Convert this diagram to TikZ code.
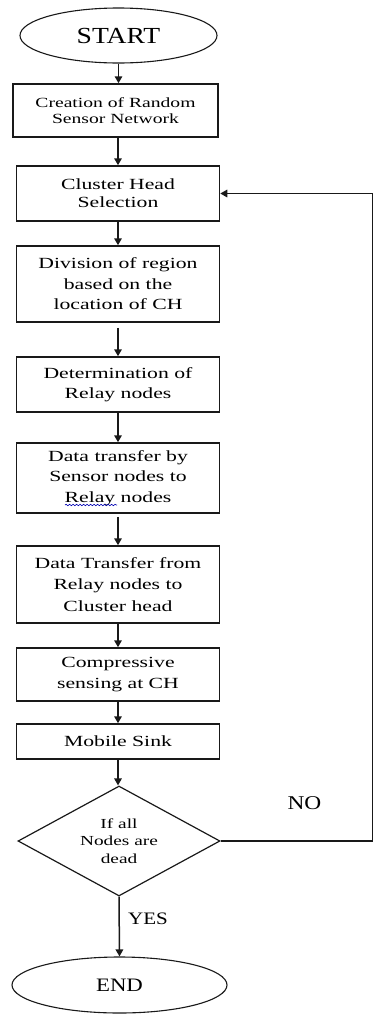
\documentclass[tikz,border=0pt]{standalone}
\usepackage{fontspec}
\setmainfont{Liberation Serif}[FakeStretch=1.2]
\newfontfamily\boxfont{Liberation Serif}[FakeStretch=1.4]
\usepackage{tikz}
\usetikzlibrary{shapes.geometric}
\usetikzlibrary{arrows.meta}
\usetikzlibrary{decorations.pathmorphing}
\tikzset{>={Triangle[length=7pt,width=7.5pt]}}
\usepackage{xcolor}
\colorlet{lineclr}{black!90}
\tikzstyle{stepbox}=[rectangle,draw=lineclr,line width=1.5pt,minimum width=203,align=center,inner sep=0,text=black,font=\boxfont\fontsize{15.5}{20.5}\selectfont]
\tikzstyle{terminal}=[ellipse,draw=lineclr,line width=1.1pt,inner sep=0,text=black]
\tikzstyle{decision}=[diamond,draw=lineclr,line width=1.2pt,aspect=1.85,inner sep=0,align=center,text=black,font=\boxfont\fontsize{13.8}{17.5}\selectfont]
\tikzstyle{flow}=[->,draw=lineclr,line width=1.5pt]

\begin{document}
\begin{tikzpicture}[x=1pt,y=-1pt]
\useasboundingbox (0,0) rectangle (374,1015);

\node[terminal,minimum width=197,minimum height=55,font=\fontsize{23}{26}\selectfont] (start) at (118.5,35.5) {START};

\node[stepbox,minimum width=205,minimum height=53,font=\boxfont\fontsize{14}{16}\selectfont] (create) at (115.5,110.5) {Creation of Random\\Sensor Network};
\node[stepbox,minimum height=55,font=\boxfont\fontsize{15.5}{18}\selectfont] (cluster) at (118,193.5) {Cluster Head\\Selection};
\node[stepbox,minimum height=76] (divide) at (118,284) {Division of region\\based on the\\location of CH};
\node[stepbox,minimum height=55] (relay) at (118,384.5) {Determination of\\Relay nodes};
\node[stepbox,minimum height=70] (transfer) at (118,478) {Data transfer by\\Sensor nodes to\\Relay nodes};
\node[stepbox,minimum height=77,font=\boxfont\fontsize{15.5}{21.5}\selectfont] (tohead) at (118,584.5) {Data Transfer from\\Relay nodes to\\Cluster head};
\node[stepbox,minimum height=53,font=\boxfont\fontsize{15.5}{21.5}\selectfont] (compress) at (118,674.5) {Compressive\\sensing at CH};
\node[stepbox,minimum height=35] (sink) at (118,741.5) {Mobile Sink};

\node[decision,minimum width=202,minimum height=110] (check) at (119,841) {If all\\Nodes are\\dead};

\node[terminal,minimum width=215,minimum height=56,font=\fontsize{19}{22}\selectfont] (end) at (119.5,985) {END};

\node[text=black,font=\fontsize{19.5}{22}\selectfont] (no) at (304.5,803.5) {NO};
\node[text=black,font=\fontsize{17.5}{20}\selectfont] (yes) at (148,919) {YES};

% spell-check mark under the word
\draw[blue!70!black,line width=0.6pt,decorate,decoration={snake,amplitude=0.7pt,segment length=3.5pt}] ([xshift=-53pt,yshift=-27pt]transfer.center) -- ++(52,0);

\draw[flow] (start.south) -- (start.south |- create.north);
\draw[flow] (create.south -| cluster.north) -- (cluster.north);
\draw[flow] (cluster.south) -- (divide.north);
\draw[flow,shorten <=5pt] (divide.south) -- (relay.north);
\draw[flow] (relay.south) -- (transfer.north);
\draw[flow,shorten <=3pt] (transfer.south) -- (tohead.north);
\draw[flow] (tohead.south) -- (compress.north);
\draw[flow] (compress.south) -- (sink.north);
\draw[flow] (sink.south) -- (sink.south |- check.north);
\draw[flow] (check.south) -- (end.north);

\coordinate (turn) at (372.5,841);
\draw[flow] (check.east) -- (turn) |- (cluster.east);
\end{tikzpicture}
\end{document}
